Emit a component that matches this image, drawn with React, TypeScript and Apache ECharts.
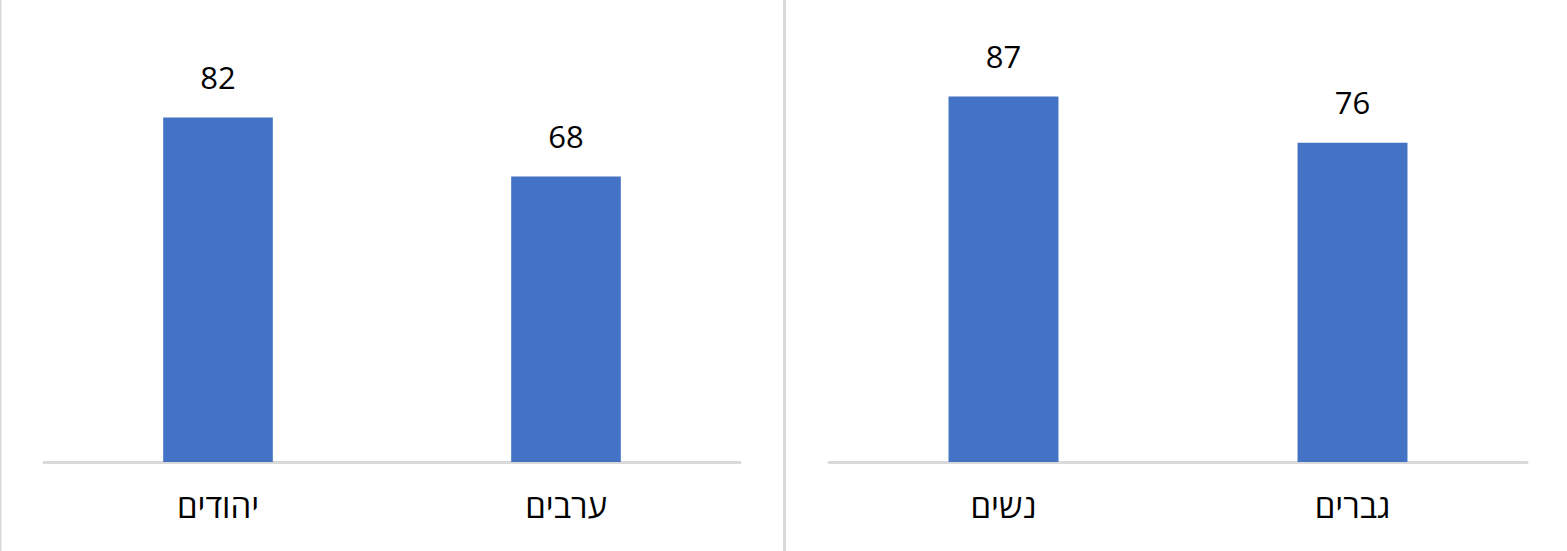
import React, { useEffect, useRef } from "react";
import * as echarts from "echarts";

const leftCategories = ["יהודים", "ערבים"];
const leftValues = [82, 68];
const rightCategories = ["נשים", "גברים"];
const rightValues = [87, 76];

const FONT = "'Open Sans', 'Liberation Sans', Arial, sans-serif";
const BAR_COLOR = "#4472C4";
const LINE_COLOR = "#D9D9D9";

export default function App() {
  const ref = useRef<HTMLDivElement>(null);
  useEffect(() => {
    if (!ref.current) return;
    const chart = echarts.init(ref.current, undefined, { renderer: "svg" });
    const xAxisBase = {
      type: "category" as const,
      axisLine: { show: true, lineStyle: { color: LINE_COLOR, width: 3 } },
      axisTick: { show: false },
      axisLabel: { color: "#000", fontSize: 33, fontFamily: FONT, margin: 27 },
    };
    const yAxisBase = {
      type: "value" as const,
      min: 0,
      max: 100,
      show: false,
      splitLine: { show: false },
    };
    const seriesBase = {
      type: "bar" as const,
      barWidth: "31.5%",
      itemStyle: { color: BAR_COLOR },
      label: {
        show: true,
        position: "top" as const,
        distance: 25,
        color: "#000",
        fontSize: 31,
        fontFamily: FONT,
      },
    };
    chart.setOption({
      animation: false,
      backgroundColor: "#fff",
      grid: [
        { left: 44, width: 696, top: 42, height: 420 },
        { left: 829, width: 698, top: 42, height: 420 },
      ],
      xAxis: [
        { ...xAxisBase, gridIndex: 0, data: leftCategories },
        { ...xAxisBase, gridIndex: 1, data: rightCategories },
      ],
      yAxis: [
        { ...yAxisBase, gridIndex: 0 },
        { ...yAxisBase, gridIndex: 1 },
      ],
      series: [
        { ...seriesBase, xAxisIndex: 0, yAxisIndex: 0, data: leftValues },
        { ...seriesBase, xAxisIndex: 1, yAxisIndex: 1, data: rightValues },
      ],
      graphic: [
        {
          type: "line",
          shape: { x1: 784.5, y1: 0, x2: 784.5, y2: 551 },
          style: { stroke: LINE_COLOR, lineWidth: 3 },
        },
        {
          type: "line",
          shape: { x1: 0.75, y1: 0, x2: 0.75, y2: 551 },
          style: { stroke: LINE_COLOR, lineWidth: 1.5 },
        },
      ],
    });
    return () => chart.dispose();
  }, []);
  return (
    <div
      ref={ref}
      style={{ position: "fixed", left: 0, top: 0, width: 1567, height: 551 }}
    />
  );
}
